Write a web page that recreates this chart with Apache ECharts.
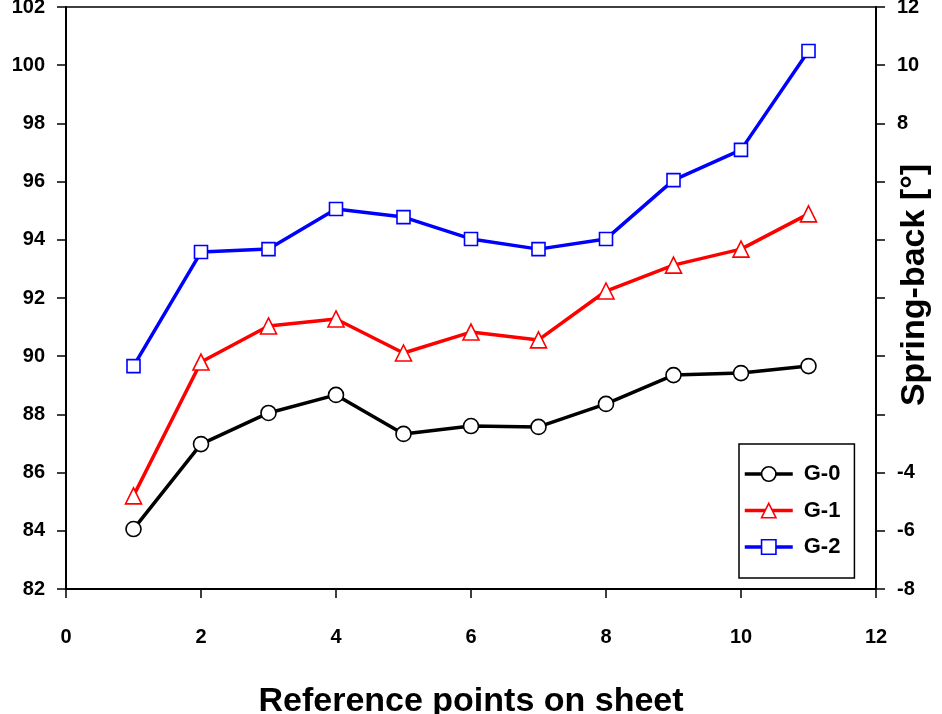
<!DOCTYPE html>
<html>
<head>
<meta charset="utf-8">
<script src="https://cdn.jsdelivr.net/npm/echarts@6/dist/echarts.min.js"></script>
<style>
  html, body { margin: 0; padding: 0; background: #fff; }
  #chart { width: 942px; height: 714px; }
</style>
</head>
<body>
<div id="chart"></div>
<script>
// Reference point index along the sheet
const points = [1, 2, 3, 4, 5, 6, 7, 8, 9, 10, 11];

// Measured values per specimen group (left axis)
const g0 = [84.06, 86.98, 88.05, 88.67, 87.33, 87.60, 87.57, 88.36, 89.35, 89.42, 89.66];
const g1 = [85.20, 89.80, 91.04, 91.28, 90.11, 90.83, 90.56, 92.24, 93.13, 93.68, 94.89];
const g2 = [89.66, 93.58, 93.68, 95.06, 94.78, 94.03, 93.68, 94.03, 96.05, 97.09, 100.49];

const seriesNames = ['G-0', 'G-1', 'G-2'];
const xTitle = 'Reference points on sheet';
const rightTitle = 'Spring-back [\u00B0]';
// Right-axis tick labels left visible; the rest sit under the axis title
const rightLabelsShown = [12, 10, 8, -4, -6, -8];

const font = 'Liberation Sans, Arial, sans-serif';
const pair = (ys) => points.map((x, i) => [x, ys[i]]);

const chart = echarts.init(document.getElementById('chart'), null, { renderer: 'canvas' });

const axisLine = { show: true, onZero: false, lineStyle: { color: '#000', width: 2 } };
const axisTick = { show: true, inside: false, length: 9, lineStyle: { color: '#000', width: 1.5 } };
const axisLabel = { color: '#000', fontFamily: font, fontWeight: 'bold', fontSize: 20 };

function lineSeries(name, data, color, symbol, size) {
  return {
    name: name,
    type: 'line',
    data: pair(data),
    symbol: symbol,
    symbolSize: size,
    showAllSymbol: true,
    lineStyle: { color: color, width: 3.5 },
    itemStyle: { color: '#fff', borderColor: color, borderWidth: 1.6 },
    emphasis: { disabled: true },
    z: 3
  };
}

chart.setOption({
  animation: false,
  backgroundColor: '#fff',
  grid: {
    left: 66, right: 66, top: 7, bottom: 125,
    outerBoundsMode: 'none',
    containLabel: false,
    show: true, borderColor: '#000', borderWidth: 1.5, backgroundColor: 'transparent'
  },
  legend: {
    data: seriesNames,
    orient: 'vertical',
    left: 739, top: 444,
    width: 124, height: 127,
    padding: [19, 14, 20, 4],
    itemWidth: 48, itemHeight: 18, itemGap: 14.5,
    borderColor: '#000', borderWidth: 1.5,
    backgroundColor: '#fff',
    lineStyle: { width: 3.5 },
    itemStyle: { borderWidth: 1.6 },
    textStyle: { color: '#000', fontFamily: font, fontWeight: 'bold', fontSize: 22, padding: [0, 0, 0, 6] }
  },
  xAxis: {
    type: 'value',
    min: 0, max: 12, interval: 2,
    name: xTitle,
    nameLocation: 'middle',
    nameGap: 96,
    nameTextStyle: { color: '#000', fontFamily: font, fontWeight: 'bold', fontSize: 34 },
    axisLine: axisLine,
    axisTick: axisTick,
    axisLabel: Object.assign({ margin: 38 }, axisLabel),
    splitLine: { show: false }
  },
  yAxis: [
    {
      type: 'value',
      position: 'left',
      min: 82, max: 102, interval: 2,
      axisLine: axisLine,
      axisTick: axisTick,
      axisLabel: Object.assign({ margin: 21 }, axisLabel),
      splitLine: { show: false }
    },
    {
      type: 'value',
      position: 'right',
      min: -8, max: 12, interval: 2,
      name: rightTitle,
      nameLocation: 'middle',
      nameRotate: 90,
      nameGap: 22,
      nameMoveOverlap: false,
      nameTextStyle: {
        color: '#000', fontFamily: font, fontWeight: 'bold', fontSize: 34,
        padding: [0, 0, 0, 26]
      },
      axisLine: axisLine,
      axisTick: axisTick,
      axisLabel: Object.assign({
        margin: 21,
        formatter: (v) => (rightLabelsShown.indexOf(v) >= 0 ? String(v) : '')
      }, axisLabel),
      splitLine: { show: false }
    }
  ],
  series: [
    lineSeries(seriesNames[0], g0, '#000000', 'circle', 15),
    lineSeries(seriesNames[1], g1, '#ff0000', 'triangle', 16),
    lineSeries(seriesNames[2], g2, '#0000ff', 'rect', 13)
  ]
});
</script>
</body>
</html>
